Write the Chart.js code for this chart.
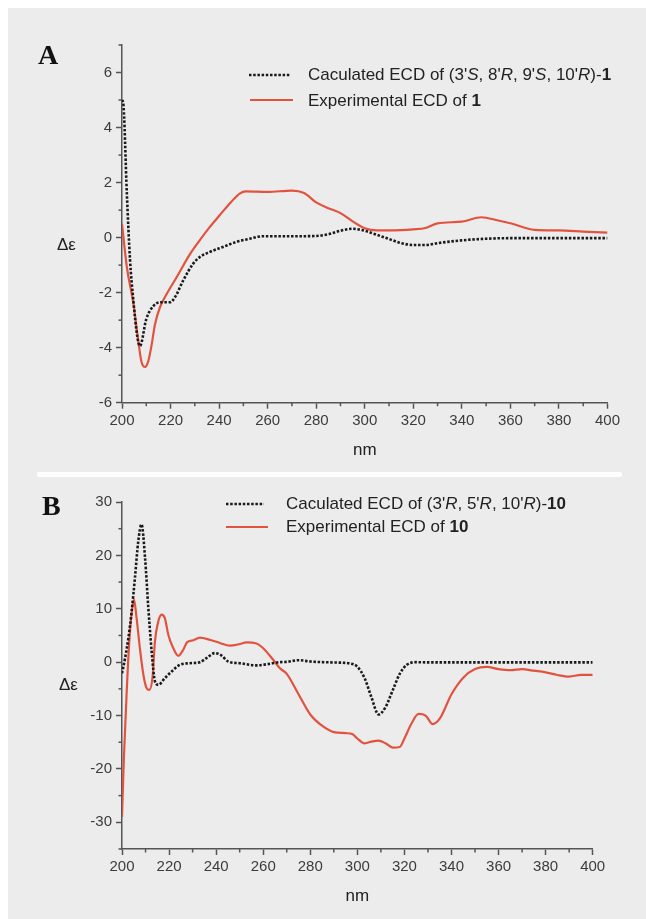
<!DOCTYPE html>
<html>
<head>
<meta charset="utf-8">
<script src="https://cdn.jsdelivr.net/npm/chart.js@4/dist/chart.umd.min.js"></script>
<style>
  html, body { margin: 0; padding: 0; background: #ffffff; }
  #page { position: relative; width: 646px; height: 919px; overflow: hidden; background: #ffffff; }
  #gray { position: absolute; left: 8px; top: 8px; right: 0; bottom: 0; background: #ececec; }
  #sep { position: absolute; left: 37px; width: 585px; top: 472px; height: 5px; background: #ffffff; border-radius: 2px; }
  canvas { position: absolute; left: 0; }
  .panel { position: absolute; font-family: "Liberation Serif", "Times New Roman", serif; font-weight: bold; font-size: 28px; color: #111; line-height: 1; }
  .leg { position: absolute; font-family: "Liberation Sans", Arial, sans-serif; font-size: 17px; color: #222; white-space: nowrap; line-height: 20px; }
  .dlab { position: absolute; font-family: "Liberation Sans", Arial, sans-serif; font-size: 17px; color: #222; line-height: 20px; }
  svg { position: absolute; left: 0; top: 0; }
</style>
</head>
<body>
<div id="page">
  <div id="gray"></div>
  <div id="sep"></div>
  <canvas id="cA" width="646" height="470" style="top:0px"></canvas>
  <canvas id="cB" width="646" height="449" style="top:470px"></canvas>

  <div class="panel" style="left:38px; top:41px;">A</div>
  <div class="panel" style="left:42px; top:492px;">B</div>

  <div class="dlab" style="left:57px; top:235px;">Δε</div>
  <div class="dlab" style="left:59px; top:675px;">Δε</div>

  <svg width="646" height="919">
    <line x1="249" y1="75" x2="291" y2="75" stroke="#1a1a1a" stroke-width="2.5" stroke-dasharray="2.5,1.7"/>
    <line x1="250" y1="100" x2="293" y2="100" stroke="#e2533f" stroke-width="2.2"/>
    <line x1="226" y1="504" x2="264" y2="504" stroke="#1a1a1a" stroke-width="2.5" stroke-dasharray="2.5,1.7"/>
    <line x1="226" y1="527" x2="268" y2="527" stroke="#e2533f" stroke-width="2.2"/>
  </svg>
  <div class="leg" style="left:308px; top:65px;">Caculated ECD of (3'<i>S</i>, 8'<i>R</i>, 9'<i>S</i>, 10'<i>R</i>)-<b>1</b></div>
  <div class="leg" style="left:308px; top:91px;">Experimental ECD of <b>1</b></div>
  <div class="leg" style="left:286px; top:494px;">Caculated ECD of (3'<i>R</i>, 5'<i>R</i>, 10'<i>R</i>)-<b>10</b></div>
  <div class="leg" style="left:286px; top:517px;">Experimental ECD of <b>10</b></div>
</div>
<script>
// ---------------- Data ----------------
// Panel A
const A_calc_nm = [200, 200.5, 202, 203.3, 204.7, 206.3, 207.4, 210, 213, 215.6, 219.7, 221.8, 225.2, 229.3, 232, 236.2, 241.6, 247, 252.6, 258, 270, 280, 285, 290, 295, 300, 305, 310, 315, 320, 325, 330, 340, 350, 360, 400];
const A_calc_de = [5.0, 4.9, 1.6, -0.8, -2.3, -3.6, -3.94, -2.96, -2.48, -2.35, -2.35, -2.17, -1.56, -0.95, -0.71, -0.52, -0.34, -0.16, -0.04, 0.05, 0.05, 0.06, 0.12, 0.25, 0.32, 0.25, 0.1, -0.05, -0.2, -0.27, -0.27, -0.2, -0.1, -0.04, -0.02, -0.02];
const A_exp_nm = [200, 202, 204.7, 206.7, 208, 209.5, 210.8, 212.2, 213.6, 215.6, 218.4, 222.5, 228, 232, 236.2, 240.3, 244.4, 248.5, 251, 260, 270, 275, 280, 285, 290, 295, 300, 305, 310, 320, 325, 330, 340, 348, 355, 360, 370, 380, 390, 400];
const A_exp_de = [0.5, -1.07, -2.4, -3.75, -4.5, -4.7, -4.5, -3.9, -3.15, -2.54, -2.05, -1.44, -0.6, -0.1, 0.39, 0.82, 1.24, 1.6, 1.68, 1.66, 1.71, 1.62, 1.28, 1.07, 0.89, 0.59, 0.34, 0.26, 0.26, 0.3, 0.35, 0.52, 0.58, 0.74, 0.62, 0.52, 0.28, 0.26, 0.22, 0.18];

// Panel B
const B_calc_nm = [200, 201.3, 202.7, 204.1, 205.5, 206.9, 208.3, 209.8, 211.2, 212.6, 214, 215.4, 218.2, 221.1, 224.6, 228.9, 233.1, 235.9, 239.5, 242.3, 245.1, 250.1, 257.1, 261.4, 267, 270, 275, 280, 290, 297, 300, 303, 306, 309, 312, 315, 318, 321, 325, 330, 400];
const B_calc_de = [-2.1, 0.75, 4.5, 9.5, 15.8, 22.6, 25.8, 19.5, 10.1, 2, -3.6, -4.25, -3, -1.75, -0.5, -0.2, 0, 0.75, 1.7, 1.25, 0.12, -0.2, -0.6, -0.4, 0, 0.06, 0.37, 0.12, -0.06, -0.25, -0.87, -2.9, -6.6, -9.8, -8.4, -5.3, -2.2, -0.5, 0, -0.05, -0.05];
const B_exp_nm = [200, 200.8, 202, 203.1, 204.2, 205.1, 206.2, 207.6, 209.1, 210.5, 211.6, 213, 214, 215.4, 216.8, 218.2, 219.7, 221.8, 223.9, 226, 227.7, 230.3, 233.1, 237.3, 241.6, 245.8, 250.1, 252.9, 257.1, 260, 264.3, 267, 270, 275, 280, 285, 290, 295, 298, 300, 303, 305, 309, 312, 315, 318, 320, 323, 326, 329, 332, 335, 340, 345, 350, 355, 360, 365, 370, 375, 380, 385, 390, 395, 400];
const B_exp_de = [-29, -18, -5.5, 3.9, 9.5, 11.7, 8.25, 2.6, -2.4, -4.9, -5.2, -2.7, 3.9, 7.6, 8.9, 8.25, 5.1, 2.6, 1.2, 2.3, 3.75, 4.1, 4.6, 4.2, 3.6, 3.1, 3.4, 3.7, 3.5, 2.6, 0.4, -1.1, -2.2, -6, -9.8, -11.9, -13.1, -13.3, -13.5, -14.3, -15.2, -15, -14.7, -15.2, -16.0, -15.9, -14.3, -11.5, -9.7, -10, -11.6, -10.6, -6, -2.9, -1.3, -0.9, -1.3, -1.5, -1.3, -1.6, -1.9, -2.4, -2.7, -2.4, -2.4];

// Axis tick values
const X_minor = [210, 230, 250, 270, 290, 310, 330, 350, 370, 390];
const A_y_minor = [-5, -3, -1, 1, 3, 5, 7];
const B_y_minor = [-35, -25, -15, -5, 5, 15, 25];

// --------------- Styling ---------------
const AXIS_COLOR = '#555555';
const TICK_COLOR = '#3c3c3c';
const RED = '#e2533f';
const DOT = '#1a1a1a';
const FONT = '"Liberation Sans", Arial, sans-serif';

const pts = (xs, ys) => xs.map((x, i) => ({ x: x, y: ys[i] }));

const minorTicks = {
  id: 'minorTicks',
  afterDraw(chart, args, opts) {
    const ctx = chart.ctx;
    const xs = chart.scales.x, ys = chart.scales.y;
    ctx.save();
    ctx.strokeStyle = AXIS_COLOR;
    ctx.lineWidth = 1.5;
    (opts.x || []).forEach(v => {
      const px = xs.getPixelForValue(v);
      ctx.beginPath(); ctx.moveTo(px, xs.top); ctx.lineTo(px, xs.top + 3.5); ctx.stroke();
    });
    (opts.y || []).forEach(v => {
      const py = ys.getPixelForValue(v);
      ctx.beginPath(); ctx.moveTo(ys.right, py); ctx.lineTo(ys.right - 3.5, py); ctx.stroke();
    });
    ctx.restore();
  }
};

function makeChart(id, cfg) {
  return new Chart(document.getElementById(id), {
    type: 'line',
    data: {
      datasets: [
        {
          data: pts(cfg.calcX, cfg.calcY),
          borderColor: DOT, borderWidth: 2.6, borderDash: [2.5, 1.7],
          pointRadius: 0, fill: false, cubicInterpolationMode: 'monotone', order: 1
        },
        {
          data: pts(cfg.expX, cfg.expY),
          borderColor: RED, borderWidth: 2.2,
          pointRadius: 0, fill: false, cubicInterpolationMode: 'monotone', order: 2
        }
      ]
    },
    options: {
      responsive: false,
      animation: false,
      events: [],
      layout: { padding: cfg.padding },
      plugins: {
        legend: { display: false },
        tooltip: { enabled: false },
        minorTicks: { x: X_minor, y: cfg.yMinor }
      },
      scales: {
        x: {
          type: 'linear', min: 200, max: 400,
          afterFit: s => { s.height = 60; },
          border: { display: true, color: AXIS_COLOR, width: 1.5 },
          grid: { drawOnChartArea: false, drawTicks: true, tickLength: 6, tickColor: AXIS_COLOR, tickWidth: 1.5 },
          ticks: { stepSize: 20, color: TICK_COLOR, font: { family: FONT, size: 15 }, padding: 3, maxRotation: 0, autoSkip: false, includeBounds: false },
          title: { display: true, text: 'nm', color: '#222', font: { family: FONT, size: 17 }, padding: { top: 0, bottom: 2 } }
        },
        y: {
          type: 'linear', min: cfg.yMin, max: cfg.yMax,
          afterFit: s => { s.width = 122; },
          border: { display: true, color: AXIS_COLOR, width: 1.5 },
          grid: { drawOnChartArea: false, drawTicks: true, tickLength: 6, tickColor: AXIS_COLOR, tickWidth: 1.5 },
          ticks: { stepSize: cfg.yStep, color: TICK_COLOR, font: { family: FONT, size: 15 }, padding: 4, includeBounds: false, autoSkip: false }
        }
      }
    },
    plugins: [minorTicks]
  });
}

makeChart('cA', {
  calcX: A_calc_nm, calcY: A_calc_de, expX: A_exp_nm, expY: A_exp_de,
  yMin: -6, yMax: 7, yStep: 2, yMinor: A_y_minor,
  padding: { left: 0, top: 45, right: 38.5, bottom: 7.3 }
});

makeChart('cB', {
  calcX: B_calc_nm, calcY: B_calc_de, expX: B_exp_nm, expY: B_exp_de,
  yMin: -35, yMax: 30, yStep: 10, yMinor: B_y_minor,
  padding: { left: 0, top: 32, right: 53.3, bottom: 10 }
});
</script>
</body>
</html>
